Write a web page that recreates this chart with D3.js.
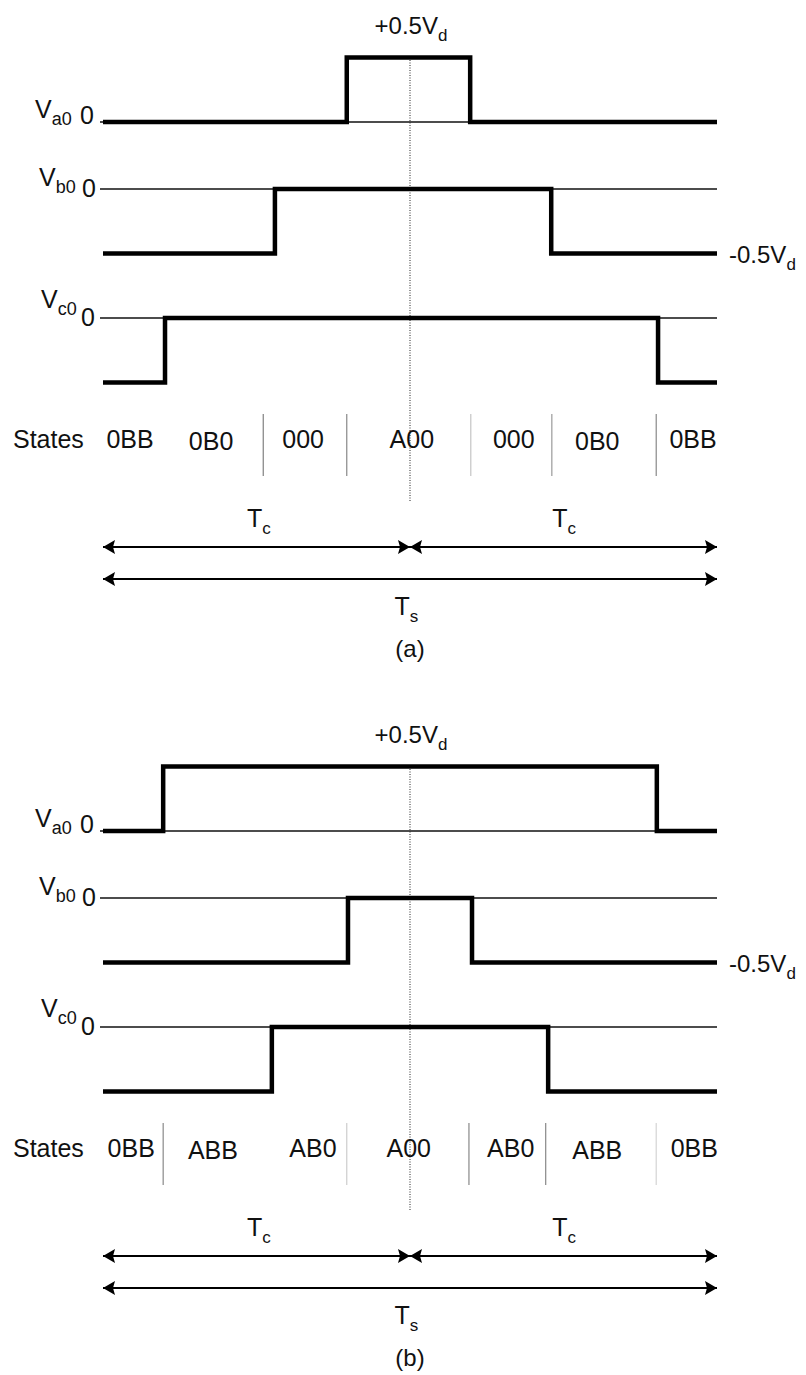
<!DOCTYPE html>
<html>
<head>
<meta charset="utf-8">
<script src="https://cdn.jsdelivr.net/npm/d3@7"></script>
<style>
  html, body { margin: 0; padding: 0; background: #fff; }
  text { font-family: "Liberation Sans", Arial, sans-serif; fill: #111; }
</style>
</head>
<body>
<div id="chart"></div>
<script>
// time axis is expressed in percent of the switching period Ts
const periodSpan = [0, 100];
const halfPeriod = 50;

// pole voltages in units of Vd
const phaseSubs = ["a0", "b0", "c0"];
const levelOutside = [0, -0.5, -0.5];
const levelInside = [0.5, 0, 0];

// switching instants (% of Ts) for each phase: [turn-on, turn-off]
const edgesPanelA = [[39.7, 59.8], [28.0, 73.0], [10.1, 90.4]];
const edgesPanelB = [[9.8, 90.2], [39.9, 60.1], [27.5, 72.5]];

// switching states along the period
const statesPanelA = ["0BB", "0B0", "000", "A00", "000", "0B0", "0BB"];
const statePosPanelA = [4.4, 17.6, 32.6, 50.3, 66.9, 80.5, 96.1];
const statesPanelB = ["0BB", "ABB", "AB0", "A00", "AB0", "ABB", "0BB"];
const statePosPanelB = [4.6, 17.9, 34.2, 49.8, 66.4, 80.5, 96.3];

// vertical separators between states (% of Ts)
const sepPanelA = [26.1, 39.7, 59.9, 73.1, 90.1];
const sepPanelB = [9.8, 39.7, 59.6, 72.1, 90.1];

const panelNames = ["(a)", "(b)"];

const width = 806, height = 1375;
const panelShift = [0, 709];
const rowZero = [122, 189, 318];
const sepOpacity = [[0.75, 0.7, 0.35, 0.6, 0.7], [0.7, 0.3, 0.7, 0.7, 0.25]];

const svg = d3.select("#chart")
    .append("svg")
    .attr("width", width)
    .attr("height", height);

const x = d3.scaleLinear()
    .domain(periodSpan)
    .range([103, 717]);

// volts (in Vd) -> pixel offset from each row's zero line
const v = d3.scaleLinear()
    .domain([0, 0.5])
    .range([0, -64.5]);

const vLabelDy = [-4, -3, -10];
const zeroLabelDy = [2, 8, 8];
const vLabelX = [35, 39, 41];
const zeroLabelX = [80, 82, 81];

function drawPanel(p, edges, states, statePos, seps) {
    const g = svg.append("g")
        .attr("transform", `translate(0,${panelShift[p]})`);

    // centre (dotted) line
    g.append("line")
        .attr("x1", x(halfPeriod)).attr("x2", x(halfPeriod))
        .attr("y1", 60).attr("y2", 501)
        .attr("stroke", "#222")
        .attr("stroke-width", 1)
        .attr("stroke-dasharray", "1,1.5");

    phaseSubs.forEach((sub, i) => {
        const y0 = rowZero[i];

        // thin zero reference
        g.append("line")
            .attr("x1", x(periodSpan[0]) - 3).attr("x2", x(periodSpan[1]))
            .attr("y1", y0).attr("y2", y0)
            .attr("stroke", "#111")
            .attr("stroke-width", 1.5);

        // waveform as a step function
        const steps = [
            { t: periodSpan[0], lv: levelOutside[i] },
            { t: edges[i][0], lv: levelInside[i] },
            { t: edges[i][1], lv: levelOutside[i] },
            { t: periodSpan[1], lv: levelOutside[i] }
        ];
        g.append("path")
            .datum(steps)
            .attr("d", d3.line()
                .x(d => x(d.t))
                .y(d => y0 + v(d.lv))
                .curve(d3.curveStepAfter))
            .attr("fill", "none")
            .attr("stroke", "#000")
            .attr("stroke-width", 4.5)
            .attr("stroke-linejoin", "miter");

        // row label V_xx 0
        const lab = g.append("text")
            .attr("x", vLabelX[i])
            .attr("y", y0 + vLabelDy[i])
            .style("font-size", "25px");
        lab.append("tspan").text("V");
        lab.append("tspan")
            .attr("dy", 7)
            .style("font-size", "18px")
            .text(sub);
        g.append("text")
            .attr("x", zeroLabelX[i])
            .attr("y", y0 + zeroLabelDy[i])
            .style("font-size", "25px")
            .text("0");
    });

    // level annotations
    const plus = g.append("text")
        .attr("x", 411)
        .attr("y", rowZero[0] + v(0.5) - 24)
        .attr("text-anchor", "middle")
        .style("font-size", "24px");
    plus.append("tspan").text("+0.5V");
    plus.append("tspan").attr("dy", 7).style("font-size", "17px").text("d");

    const minus = g.append("text")
        .attr("x", 729)
        .attr("y", rowZero[1] + v(-0.5) + 9)
        .style("font-size", "24px");
    minus.append("tspan").text("-0.5V");
    minus.append("tspan").attr("dy", 7).style("font-size", "17px").text("d");

    // states row
    const sy = 448;
    g.append("text")
        .attr("x", 13).attr("y", sy)
        .style("font-size", "25px")
        .text("States");

    g.selectAll(".state")
        .data(states)
        .join("text")
        .attr("class", "state")
        .attr("x", (d, k) => x(statePos[k]))
        .attr("y", (d, k) => sy + (d === "0B0" || d === "ABB" ? 2 : 0))
        .attr("text-anchor", "middle")
        .style("font-size", "25px")
        .text(d => d);

    g.selectAll(".sep")
        .data(seps)
        .join("line")
        .attr("class", "sep")
        .attr("x1", d => x(d)).attr("x2", d => x(d))
        .attr("y1", sy - 34).attr("y2", sy + 28)
        .attr("stroke", "#555")
        .attr("stroke-width", 1.2)
        .attr("stroke-opacity", (d, k) => sepOpacity[p][k]);

    // period arrows
    const tcY = 547, tsY = 579;
    const arrow = (x1, x2, y) => {
        g.append("line")
            .attr("x1", x(x1)).attr("x2", x(x2))
            .attr("y1", y).attr("y2", y)
            .attr("stroke", "#000")
            .attr("stroke-width", 1.8);
        [[x(x1), 1], [x(x2), -1]].forEach(([px, dir]) => {
            g.append("path")
                .attr("d", `M${px},${y} L${px + dir * 12},${y - 7} L${px + dir * 10},${y} L${px + dir * 12},${y + 7} Z`)
                .attr("fill", "#000");
        });
    };
    arrow(periodSpan[0], halfPeriod, tcY);
    arrow(halfPeriod, periodSpan[1], tcY);
    arrow(periodSpan[0], periodSpan[1], tsY);

    [25.4, 75.1].forEach(t => {
        const tc = g.append("text")
            .attr("x", x(t))
            .attr("y", tcY - 20)
            .attr("text-anchor", "middle")
            .style("font-size", "25px");
        tc.append("tspan").text("T");
        tc.append("tspan").attr("dy", 7).style("font-size", "17px").text("c");
    });

    const ts = g.append("text")
        .attr("x", x(49.4))
        .attr("y", tsY + 36)
        .attr("text-anchor", "middle")
        .style("font-size", "25px");
    ts.append("tspan").text("T");
    ts.append("tspan").attr("dy", 7).style("font-size", "17px").text("s");

    g.append("text")
        .attr("x", x(halfPeriod))
        .attr("y", 657)
        .attr("text-anchor", "middle")
        .style("font-size", "24px")
        .text(panelNames[p]);
}

drawPanel(0, edgesPanelA, statesPanelA, statePosPanelA, sepPanelA);
drawPanel(1, edgesPanelB, statesPanelB, statePosPanelB, sepPanelB);
</script>
</body>
</html>
